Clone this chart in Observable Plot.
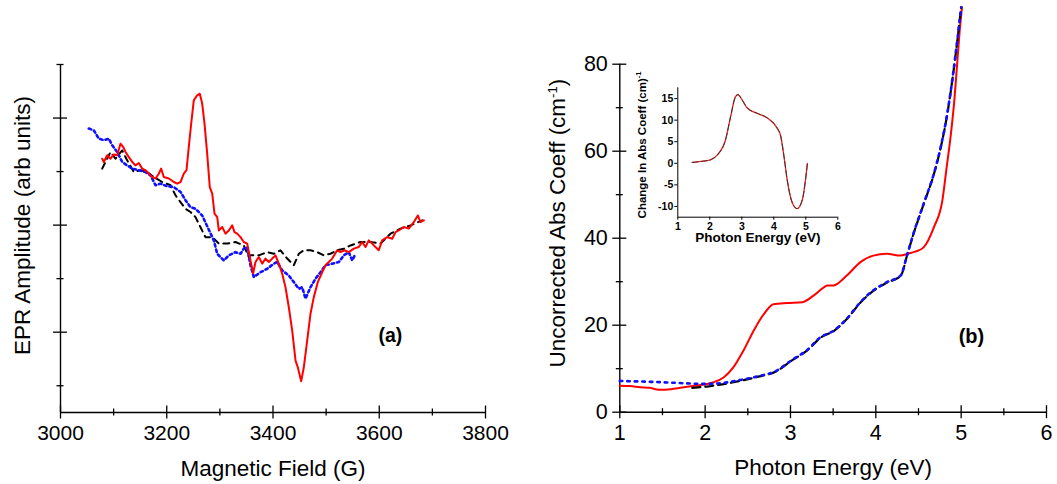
<!DOCTYPE html>
<html><head><meta charset="utf-8">
<script src="https://cdn.jsdelivr.net/npm/d3@7"></script>
<script src="https://cdn.jsdelivr.net/npm/@observablehq/plot@0.6"></script>
<style>
body{margin:0;background:#fff;}
#wrap{position:relative;width:1057px;height:484px;overflow:hidden;background:#fff;}
#wrap svg{position:absolute;background:transparent;}
</style></head><body><div id="wrap"></div>
<script>
// ---------- Panel (a): EPR ----------
const eprRedField = [3078.5,3081.5,3087.9,3094.1,3100.3,3106.7,3112.9,3118.0,3122.4,3128.6,3135.0,3141.2,3147.4,3153.8,3160.0,3166.2,3172.6,3178.8,3185.0,3189.5,3194.4,3203.9,3213.3,3219.7,3225.9,3232.1,3237.2,3241.5,3246.0,3250.9,3257.3,3262.2,3266.7,3271.1,3276.1,3281.0,3285.6,3289.9,3295.0,3298.0,3304.4,3310.6,3316.8,3323.2,3327.5,3332.6,3338.8,3345.0,3351.4,3357.6,3362.7,3367.1,3373.3,3379.7,3385.9,3392.1,3398.5,3404.7,3410.9,3417.3,3423.5,3429.7,3436.1,3442.4,3446.7,3453.1,3458.0,3464.4,3470.6,3476.8,3484.3,3492.6,3498.8,3505.0,3511.4,3520.8,3527.1,3534.6,3542.7,3552.1,3561.5,3567.9,3574.1,3580.3,3586.7,3592.9,3599.1,3605.5,3614.9,3624.4,3630.6,3636.8,3646.2,3655.6,3665.0,3672.6,3677.6,3683.9];
const eprRedAmp = [9.48,9.36,9.61,9.48,9.64,9.61,10.04,9.92,9.73,9.54,9.36,9.23,9.32,9.11,9.05,8.92,8.80,8.74,8.92,9.11,8.80,8.74,8.61,8.55,8.61,8.92,9.05,9.92,10.79,11.66,11.85,11.91,11.54,10.79,9.67,8.42,8.18,7.43,7.30,6.80,6.93,6.68,6.80,6.99,6.74,6.68,6.55,6.37,6.31,5.68,5.20,5.62,5.81,5.56,5.75,5.62,5.75,5.87,5.56,5.19,4.68,3.94,3.07,1.94,1.69,1.17,1.69,2.69,3.69,4.31,4.87,5.24,5.50,5.62,5.75,6.06,5.99,6.06,5.99,6.12,6.18,6.37,6.18,6.43,6.31,6.18,6.06,6.43,6.55,6.49,6.74,6.80,6.93,6.87,7.11,7.36,7.11,7.18];
const eprBlueField = [3053.3,3062.7,3072.1,3081.5,3090.9,3097.3,3106.7,3116.1,3125.5,3135.0,3147.4,3160.0,3169.4,3178.8,3188.2,3200.8,3213.3,3225.9,3235.3,3244.7,3254.1,3266.7,3288.6,3295.0,3307.4,3316.8,3329.4,3338.8,3345.0,3351.4,3357.6,3363.9,3376.5,3389.1,3401.5,3407.9,3417.3,3429.7,3439.2,3448.6,3455.0,3461.2,3470.6,3480.0,3489.4,3498.8,3511.4,3523.9,3533.3,3542.7,3549.1,3555.3];
const eprBlueAmp = [10.61,10.54,10.23,10.17,10.23,9.98,9.73,9.36,9.23,9.11,9.05,8.98,8.86,8.49,8.55,8.45,8.42,8.24,7.93,7.67,7.61,7.36,6.43,5.93,5.68,5.87,5.99,5.93,6.12,6.18,5.50,5.06,5.24,5.37,5.56,5.62,5.31,5.12,4.87,4.62,4.68,4.25,4.68,5.00,5.24,5.50,5.56,5.62,5.87,5.99,5.68,5.93];
const eprBlackField = [3078.5,3084.7,3094.1,3103.5,3116.1,3125.5,3138.0,3150.6,3163.2,3175.6,3191.4,3207.1,3216.5,3225.9,3235.3,3244.7,3254.1,3260.3,3272.9,3285.6,3298.0,3313.8,3329.4,3345.0,3354.4,3357.6,3373.3,3389.1,3401.5,3414.1,3426.7,3439.2,3448.6,3458.0,3470.6,3483.2,3495.6,3508.2,3520.8,3533.3,3545.9,3564.7,3583.5,3602.4,3621.2,3640.0,3658.8,3680.8];
const eprBlackAmp = [9.11,9.36,9.73,9.48,9.79,9.42,8.98,9.05,8.98,8.80,8.61,8.49,8.11,7.86,7.61,7.49,7.30,7.05,6.55,6.55,6.31,6.31,6.37,6.24,5.81,5.87,5.87,5.99,5.93,6.06,5.75,5.50,5.93,6.06,6.06,5.99,5.87,5.93,6.06,6.12,6.24,6.37,6.37,6.31,6.68,6.87,6.99,7.18];
const eprFieldDomain = [3000, 3800];
const eprAmpDomain = [0, 13];
const eprFieldMajor = [3000, 3200, 3400, 3600, 3800];
const eprFieldMinor = [3100, 3300, 3500, 3700];
const eprAmpMajor = [3, 7, 11];
const eprAmpMinor = [1, 5, 9, 13];
const eprTag = [{text: "(a)", field: 3621, amp: 2.88}];
const eprXLabel = "Magnetic Field (G)";
const eprYLabel = "EPR Amplitude (arb units)";

// ---------- Panel (b): absorption ----------
const absRedE = [1.00,1.12,1.24,1.35,1.46,1.60,1.71,1.85,2.02,2.10,2.22,2.33,2.45,2.57,2.69,2.80,2.96,3.14,3.27,3.40,3.43,3.50,3.53,3.66,3.82,3.97,4.13,4.29,4.37,4.46,4.56,4.68,4.78,4.83,4.88,4.92,4.95,4.98,5.01];
const absRedA = [6.1,6.0,5.75,5.6,5.15,5.3,5.6,6.0,6.5,6.9,8.05,10.3,14.2,18.8,22.6,24.8,25.1,25.3,26.8,28.8,29.1,29.1,29.3,31.4,34.5,36.0,36.4,36.0,36.4,36.9,37.9,42.5,48.7,56.3,64.0,71.7,79.3,87.0,93.1];
const absBlueE = [1.00,1.48,2.02,2.20,2.41,2.65,2.80,3.04,3.19,3.35,3.51,3.66,3.82,3.97,4.13,4.29,4.37,4.44,4.56,4.68,4.76,4.83,4.89,4.94,5.00];
const absBlueA = [7.2,6.9,6.5,6.7,7.4,8.4,9.2,12.3,14.2,17.2,18.8,21.5,25.3,28.0,29.9,31.4,36.4,41.0,47.9,54.8,60.9,67.8,75.5,83.1,93.1];
const absBlackE = [1.85,2.02,2.20,2.41,2.65,2.80,3.04,3.19,3.35,3.51,3.66,3.82,3.97,4.13,4.29,4.37,4.44,4.56,4.68,4.76,4.83,4.89,4.94,5.00];
const absBlackA = [5.6,5.9,6.4,7.2,8.3,9.1,12.2,14.1,17.1,18.7,21.4,25.2,27.9,29.8,31.3,36.3,40.9,47.8,54.7,60.8,67.7,75.4,83.0,93.0];
const absEDomain = [1, 6];
const absADomain = [0, 80];
const absEMajor = [1, 2, 3, 4, 5, 6];
const absEMinor = [1.5, 2.5, 3.5, 4.5, 5.5];
const absAMajor = [0, 20, 40, 60, 80];
const absAMinor = [10, 30, 50, 70];
const absTag = [{text: "(b)", e: 5.12, a: 17.3}];
const absXLabel = "Photon Energy (eV)";
const absYLabel = "Uncorrected Abs Coeff (cm-1)";

// ---------- Inset ----------
const insetE = [1.45,1.80,2.02,2.23,2.49,2.65,2.80,2.88,3.01,3.17,3.48,3.80,4.11,4.21,4.32,4.42,4.58,4.73,4.89,5.05];
const insetD = [0.2,0.5,0.8,1.9,5.4,10.8,15.4,15.9,14.7,12.8,11.6,10.5,8.1,6.5,1.5,-3.9,-9.2,-10.5,-8.5,0.0];
const insetEDomain = [1, 6];
const insetDDomain = [-12.5, 17.5];
const insetETicks = [1, 2, 3, 4, 5, 6];
const insetDTicks = [-10, -5, 0, 5, 10, 15];
const insetXLabel = "Photon Energy (eV)";
const insetYLabel = "Change In Abs Coeff (cm)-1";

const FONT = '"Liberation Sans", Arial, Helvetica, sans-serif';
const rows = (xs, ys) => xs.map((x, i) => ({x, y: ys[i]}));
const fmt = d => `${d}`;
const wrap = document.getElementById("wrap");
function place(svg, left, top) {
  svg.style.left = left + "px";
  svg.style.top = top + "px";
  wrap.appendChild(svg);
  return svg;
}
function superscript(svg, label, base, sup, fs, shift, tail) {
  d3.select(svg).selectAll("text").filter(function () { return this.textContent === label; })
    .each(function () {
      const t = d3.select(this);
      t.text(null);
      t.append("tspan").text(base);
      t.append("tspan").attr("font-size", fs).attr("dy", -shift).text(sup);
      if (tail) t.append("tspan").attr("dy", shift).text(tail);
    });
}

// Panel (a)
const plotA = Plot.plot({
  width: 530, height: 484,
  marginLeft: 60, marginRight: 45, marginTop: 64, marginBottom: 72,
  x: {domain: eprFieldDomain},
  y: {domain: eprAmpDomain},
  style: {fontFamily: FONT, background: "transparent", color: "black", overflow: "visible"},
  marks: [
    Plot.ruleX([eprFieldDomain[0]], {stroke: "black", strokeWidth: 1.4}),
    Plot.ruleY([eprAmpDomain[0]], {stroke: "black", strokeWidth: 1.4}),
    Plot.axisX({ticks: eprFieldMajor, tickSize: 13, dy: -6.5, tickFormat: () => "", label: null, strokeWidth: 1.3}),
    Plot.axisX({ticks: eprFieldMinor, tickSize: 7, dy: -3.5, tickFormat: () => "", label: null, strokeWidth: 1.3}),
    Plot.axisX({ticks: eprFieldMajor, tickSize: 0, tickPadding: 13, fontSize: 21, tickFormat: fmt, label: null}),
    Plot.axisY({ticks: eprAmpMajor, tickSize: 14, dx: 7, tickFormat: () => "", label: null, strokeWidth: 1.3}),
    Plot.axisY({ticks: eprAmpMinor, tickSize: 7, dx: 3.5, tickFormat: () => "", label: null, strokeWidth: 1.3}),
    Plot.line(rows(eprBlackField, eprBlackAmp), {x: "x", y: "y", stroke: "black", strokeWidth: 2, strokeDasharray: "6,5"}),
    Plot.line(rows(eprBlueField, eprBlueAmp), {x: "x", y: "y", stroke: "#1010ff", strokeWidth: 2.6, strokeDasharray: "2.5,3"}),
    Plot.line(rows(eprRedField, eprRedAmp), {x: "x", y: "y", stroke: "#ff0000", strokeWidth: 2}),
    Plot.text(eprTag, {x: "field", y: "amp", text: "text", fontSize: 19.5, fontWeight: "bold"}),
    Plot.text([eprXLabel], {frameAnchor: "bottom", lineAnchor: "middle", textAnchor: "middle", dy: 56, fontSize: 22.5}),
    Plot.text([eprYLabel], {frameAnchor: "left", rotate: -90, textAnchor: "middle", lineAnchor: "middle", dx: -38, dy: -13, fontSize: 22.5})
  ]
});
place(plotA, 0, 0);

// Panel (b)
const plotB = Plot.plot({
  width: 527, height: 484,
  marginLeft: 89.3, marginRight: 11, marginTop: 63.7, marginBottom: 72.3,
  x: {domain: absEDomain},
  y: {domain: absADomain},
  style: {fontFamily: FONT, background: "transparent", color: "black", overflow: "visible"},
  marks: [
    Plot.ruleX([absEDomain[0]], {stroke: "black", strokeWidth: 1.4}),
    Plot.ruleY([absADomain[0]], {stroke: "black", strokeWidth: 1.4}),
    Plot.axisX({ticks: absEMajor, tickSize: 13, dy: -6.5, tickFormat: () => "", label: null, strokeWidth: 1.3}),
    Plot.axisX({ticks: absEMinor, tickSize: 7, dy: -3.5, tickFormat: () => "", label: null, strokeWidth: 1.3}),
    Plot.axisX({ticks: absEMajor, tickSize: 0, tickPadding: 13, fontSize: 21.5, tickFormat: fmt, label: null}),
    Plot.axisY({ticks: absAMajor, tickSize: 14, dx: 7, tickFormat: () => "", label: null, strokeWidth: 1.3}),
    Plot.axisY({ticks: absAMinor, tickSize: 7, dx: 3.5, tickFormat: () => "", label: null, strokeWidth: 1.3}),
    Plot.axisY({ticks: absAMajor, tickSize: 0, tickPadding: 12, fontSize: 21.5, tickFormat: fmt, label: null}),
    Plot.line(rows(absRedE, absRedA), {x: "x", y: "y", stroke: "#ff0000", strokeWidth: 2, curve: "monotone-x"}),
    Plot.line(rows(absBlackE, absBlackA), {x: "x", y: "y", stroke: "black", strokeWidth: 2.2, strokeDasharray: "8,5", curve: "monotone-x"}),
    Plot.line(rows(absBlueE, absBlueA), {x: "x", y: "y", stroke: "#1010ff", strokeWidth: 2.6, strokeDasharray: "2.5,5", curve: "monotone-x"}),
    Plot.text(absTag, {x: "e", y: "a", text: "text", fontSize: 20, fontWeight: "bold"}),
    Plot.text([absXLabel], {frameAnchor: "bottom", lineAnchor: "middle", textAnchor: "middle", dy: 56, fontSize: 22.5}),
    Plot.text([absYLabel], {frameAnchor: "left", rotate: -90, textAnchor: "middle", lineAnchor: "middle", dx: -62.3, dy: -15, fontSize: 22.5})
  ]
});
place(plotB, 530, 0);
superscript(plotB, absYLabel, "Uncorrected Abs Coeff (cm", "-1", 13, 8, ")");

// Inset
const plotC = Plot.plot({
  width: 230, height: 185,
  marginLeft: 49.3, marginRight: 20.7, marginTop: 17.3, marginBottom: 38.3,
  x: {domain: insetEDomain},
  y: {domain: insetDDomain},
  style: {fontFamily: FONT, background: "transparent", color: "black", overflow: "visible"},
  marks: [
    Plot.ruleX([insetEDomain[0]], {stroke: "black", strokeWidth: 1}),
    Plot.ruleY([insetDDomain[0]], {stroke: "black", strokeWidth: 1}),
    Plot.axisX({ticks: insetETicks, tickSize: 3, tickPadding: 2, fontSize: 10.5, fontWeight: "bold", tickFormat: fmt, label: null}),
    Plot.axisY({ticks: insetDTicks, tickSize: 3, tickPadding: 1.5, fontSize: 10.5, fontWeight: "bold", tickFormat: fmt, label: null}),
    Plot.line(rows(insetE, insetD), {x: "x", y: "y", stroke: "#ff2020", strokeWidth: 1.3, curve: "monotone-x"}),
    Plot.line(rows(insetE, insetD), {x: "x", y: "y", stroke: "#333", strokeWidth: 1, strokeDasharray: "6,3", curve: "monotone-x"}),
    Plot.text([insetXLabel], {frameAnchor: "bottom", lineAnchor: "middle", textAnchor: "middle", dy: 20.5, fontSize: 13.5, fontWeight: "bold"}),
    Plot.text([insetYLabel], {frameAnchor: "left", rotate: -90, textAnchor: "middle", lineAnchor: "middle", dx: -35.6, dy: -7.5, fontSize: 11.5, fontWeight: "bold"})
  ]
});
place(plotC, 628, 70);
superscript(plotC, insetYLabel, "Change In Abs Coeff (cm)", "-1", 7.5, 5, null);
</script>
</body></html>
